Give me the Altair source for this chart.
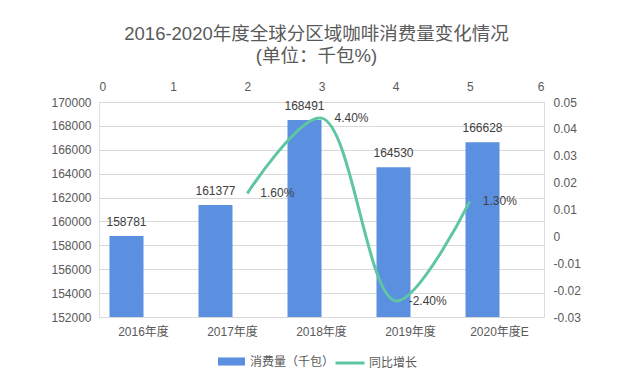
import altair as alt
import pandas as pd

years = ["2016年度", "2017年度", "2018年度", "2019年度", "2020年度E"]
consumption = [158781, 161377, 168491, 164530, 166628]
growth_pos = [2, 3, 4, 5]
growth = [0.016, 0.044, -0.024, 0.013]
growth_labels = ["1.60%", "4.40%", "-2.40%", "1.30%"]

left_ticks = list(range(152000, 170001, 2000))
right_ticks = [-0.03, -0.02, -0.01, 0, 0.01, 0.02, 0.03, 0.04, 0.05]
top_ticks = [0, 1, 2, 3, 4, 5, 6]

BAR = "#5b8fe0"
LINE = "#5ec6a0"
TXT = "#595959"
FONT = "Liberation Sans, Noto Sans CJK SC"

bar_df = pd.DataFrame({"year": years, "value": consumption,
                       "s": ["消费量（千包）"] * len(years), "off": ["a"] * len(years)})
line_df = pd.DataFrame({"pos": growth_pos, "g": growth, "label": growth_labels,
                        "s": ["同比增长"] * len(growth)})

xband = alt.X("year:N", sort=years,
              scale=alt.Scale(paddingInner=0.236, paddingOuter=0.118),
              axis=alt.Axis(title=None, labelAngle=0, domain=False, ticks=False,
                            labelPadding=9, labelFontSize=12, labelColor=TXT))
xoff = alt.XOffset("off:N", scale=alt.Scale(domain=["a", "b"], paddingInner=0, paddingOuter=0))
yleft = alt.Y("value:Q",
              scale=alt.Scale(domain=[152000, 170000], nice=False, zero=False),
              axis=alt.Axis(title=None, values=left_ticks, format="d", grid=True,
                            gridColor="#d9d9d9", labelOverlap=False,
                            domain=False, ticks=False, labelPadding=8, labelFontSize=12,
                            labelColor=TXT))

bars = alt.Chart(bar_df).mark_bar(color=BAR, clip=True).encode(
    x=xband, xOffset=xoff, y=yleft,
    color=alt.Color("s:N", scale=alt.Scale(domain=["消费量（千包）"], range=[BAR]),
                    legend=alt.Legend(title=None, orient="none", legendX=118, legendY=245,
                                      symbolType="M-1,-0.3H1V0.3H-1Z", symbolSize=729,
                                      labelFontSize=12, labelColor=TXT, labelFont=FONT,
                                      padding=0, labelOffset=4)),
)
bar_text = alt.Chart(bar_df).mark_text(baseline="bottom", dy=-7, fontSize=12,
                                       color="#404040", font=FONT).encode(
    x=xband, xOffset=xoff, y=yleft,
    text=alt.Text("value:Q", format="d"),
)
bar_layer = alt.layer(bars, bar_text)

xq = alt.X("pos:Q", scale=alt.Scale(domain=[0, 6], nice=False),
           axis=alt.Axis(title=None, orient="top", values=top_ticks, format="d",
                         domain=False, ticks=False, grid=False, labelPadding=9,
                         labelOverlap=False, labelFontSize=12, labelColor=TXT))
yright = alt.Y("g:Q", scale=alt.Scale(domain=[-0.03, 0.05], nice=False, zero=False),
               axis=alt.Axis(title=None, orient="right", values=right_ticks, grid=False,
                             domain=False, ticks=False, labelPadding=9, labelFontSize=12,
                             labelColor=TXT, labelOverlap=False,
                             labelExpr="datum.value == 0 ? '0' : toString(round(datum.value*100)/100)"))

line = alt.Chart(line_df).mark_line(interpolate="catmull-rom", strokeWidth=3).encode(
    x=xq, y=yright,
    color=alt.Color("s:N", scale=alt.Scale(domain=["同比增长"], range=[LINE]),
                    legend=alt.Legend(title=None, orient="none", legendX=235, legendY=245,
                                      symbolType="stroke", symbolSize=841,
                                      symbolStrokeWidth=3,
                                      labelFontSize=12, labelColor=TXT, labelFont=FONT,
                                      padding=0, labelOffset=3)),
)
line_text = alt.Chart(line_df).mark_text(align="left", baseline="middle", dx=13,
                                         fontSize=12, color="#404040", font=FONT).encode(
    x=xq, y=yright, text="label:N",
)
line_layer = alt.layer(line, line_text)

chart = alt.layer(bar_layer, line_layer).resolve_scale(
    x="independent", y="independent", color="independent"
).properties(
    width=445, height=215,
    title=alt.TitleParams(text=["2016-2020年度全球分区域咖啡消费量变化情况", "(单位：千包%)"],
                          fontSize=18.5, fontWeight="normal", color=TXT, font=FONT,
                          lineHeight=22, offset=15, dx=-5, anchor="middle"),
    autosize=alt.AutoSizeParams(type="none"),
    padding={"left": 91, "top": 94, "right": 80, "bottom": 58},
).configure_view(stroke=None).configure(font=FONT)

chart.save("out.html", embed_options={"renderer": "svg", "actions": False})
